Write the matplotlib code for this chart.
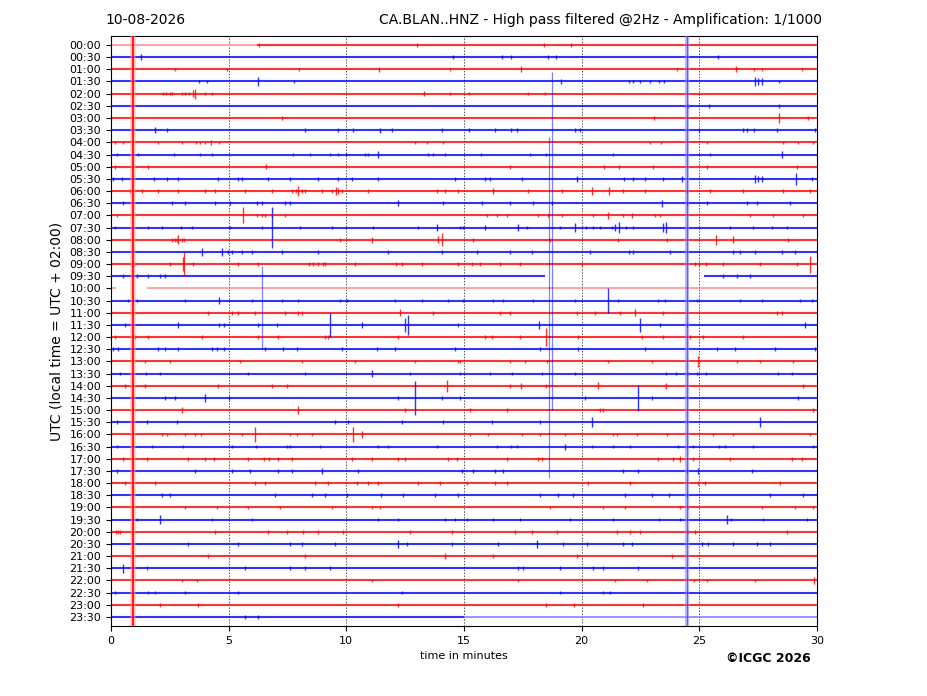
import matplotlib
matplotlib.use("Agg")
import matplotlib.pyplot as plt

# helicorder rows: 00:00 .. 23:30, one row every 30 minutes
row_labels = ["%02d:%02d" % (h, m) for h in range(24) for m in (0, 30)]

# small wiggles seen on each trace (minute of the row)
small_ticks = [
    [6.3, 13.0, 18.4, 19.55],
    [14.52, 16.6, 16.98, 18.58, 18.91, 25.81],
    [2.72, 4.94, 7.99, 14.4, 24.04, 27.34, 27.68, 29.38],
    [3.75, 4.07, 7.79, 22.0, 22.2, 22.5, 22.9, 23.3, 23.5, 28.4],
    [2.2, 2.35, 2.5, 2.6, 3.0, 3.14, 3.3, 3.99, 4.28, 14.4, 15.23, 17.71, 18.44],
    [24.5, 25.42, 28.4],
    [23.09, 29.63],
    [2.37, 8.24, 9.66, 10.27, 11.95, 14.05, 15.23, 16.32, 17.0, 17.24, 19.72, 19.93,
     25.0, 26.87, 27.04, 27.34, 28.29, 29.91],
    [0.17, 0.52, 2.01, 3.0, 3.6, 3.78, 3.99, 4.6, 12.92, 13.41, 14.12, 19.93, 22.9,
     23.36, 25.34, 28.57, 29.18, 29.82],
    [0.24, 1.16, 2.69, 3.78, 4.28, 7.75, 8.46, 9.31, 9.66, 9.97, 10.79, 10.94, 13.48,
     13.7, 14.19, 15.71, 17.8, 18.48, 21.35, 25.45],
    [0.17, 1.56, 16.95, 20.95, 21.59, 23.02, 25.31, 29.14],
    [0.1, 0.45, 1.84, 2.37, 2.83, 4.56, 5.41, 5.55, 6.69, 7.61, 8.81, 9.66, 10.23,
     11.36, 14.62, 15.89, 16.1, 17.45, 21.81, 22.2, 22.69, 23.44, 29.8],
    [0.81, 1.3, 2.01, 2.86, 3.99, 4.42, 5.69, 6.83, 7.7, 7.85, 8.1, 8.24, 8.95, 9.4,
     9.8, 10.94, 13.84, 14.19, 14.76, 17.73, 19.15, 21.77, 22.69, 24.46, 25.45, 26.87,
     28.57, 29.7],
    [0.52, 2.58, 3.14, 4.42, 5.06, 6.2, 6.4, 7.39, 7.61, 14.12, 15.75, 16.95, 17.95,
     18.73, 24.46, 25.31, 27.01, 27.44, 28.85],
    [0.24, 6.2, 6.4, 6.54, 6.83, 7.39, 15.96, 16.39, 16.81, 18.16, 18.58, 19.15, 20.5,
     21.77, 23.12, 23.33, 27.15, 28.15, 29.42],
    [0.17, 1.59, 2.15, 2.97, 3.45, 5.06, 6.4, 8.03, 9.38, 11.15, 13.06, 14.83, 14.97,
     17.66, 19.08, 20.2, 20.5, 20.78, 21.3, 21.9, 22.2, 26.3, 27.3, 28.07, 28.71],
    [2.6, 2.72, 2.8, 3.0, 3.1, 9.73, 15.4, 18.65, 21.56, 23.61, 28.78],
    [4.98, 5.13, 5.55, 5.98, 7.25, 8.81, 11.78, 14.05, 15.54, 16.95, 17.88, 20.35,
     22.0, 22.2, 23.75, 26.44, 26.73, 27.37, 28.5, 29.06],
    [0.99, 2.51, 3.5, 5.41, 6.26, 8.4, 8.6, 8.8, 9.0, 9.1, 10.37, 12.1, 12.35, 13.2,
     14.76, 15.33, 15.68, 16.53, 17.38, 20.0, 24.8, 25.0, 25.3, 26.02, 27.58, 29.14],
    [0.52, 1.09, 1.59, 2.08, 2.3, 26.02, 26.59, 27.15],
    [],
    [0.74, 1.09, 3.14, 5.98, 7.25, 7.96, 9.73, 10.05, 12.07, 13.2, 14.33, 14.97, 16.25,
     16.67, 17.95, 19.72, 21.56, 23.26, 23.54, 24.89, 26.73, 27.65, 29.28, 29.77],
    [0.88, 4.14, 5.13, 5.41, 6.12, 7.39, 7.96, 8.1, 13.7, 16.53, 16.95, 19.79, 20.57,
     21.63, 23.47, 28.29, 28.5],
    [0.6, 4.6, 4.8, 6.26, 7.04, 14.76, 23.33, 24.46],
    [0.17, 1.02, 1.59, 3.85, 6.26, 7.11, 9.1, 9.24, 12.21, 15.89, 16.2, 17.38, 19.86,
     22.55, 23.47, 24.6, 25.17, 26.87],
    [0.1, 0.3, 2.0, 2.3, 2.86, 4.3, 4.5, 4.8, 6.54, 7.3, 7.89, 9.8, 11.3, 12.07, 14.62,
     18.23, 19.86, 22.69, 25.74, 26.52, 28.22, 29.91],
    [1.44, 2.51, 5.5, 8.1, 10.37, 12.92, 14.76, 14.83, 16.95, 17.6, 18.51, 21.13, 22.97,
     26.59, 27.58, 28.99],
    [0.4, 0.9, 1.5, 2.1, 5.84, 8.24, 12.71, 14.83, 16.1, 17.03, 18.3, 19.72, 23.6, 24.0,
     24.5, 24.9, 25.3, 28.36, 28.92],
    [0.6, 1.44, 4.56, 6.83, 7.46, 16.95, 18.48, 29.42],
    [2.3, 2.7, 5.0, 12.21, 14.05, 14.83, 20.14, 22.97, 29.21],
    [12.5, 15.25, 16.81, 20.78, 20.92, 29.84],
    [0.24, 1.52, 2.79, 9.52, 10.08, 12.35, 14.12, 16.18, 18.23],
    [2.15, 2.37, 3.14, 3.57, 3.82, 5.55, 7.6, 7.9, 8.53, 15.25, 16.03, 17.45, 18.23,
     19.29, 21.35, 21.49, 22.34, 23.61, 25.6, 26.44, 29.7],
    [0.24, 1.73, 3.07, 5.13, 6.16, 7.46, 7.61, 8.88, 11.36, 11.78, 13.84, 16.39, 17.0,
     17.24, 20.42, 21.35, 22.05, 24.11, 24.74, 25.85, 26.1, 27.3, 29.84],
    [0.52, 1.52, 3.29, 3.99, 4.39, 5.84, 6.5, 6.7, 7.11, 7.68, 10.23, 11.08, 12.2, 12.5,
     14.33, 14.72, 16.81, 18.16, 18.3, 23.26, 23.9, 24.74, 26.3, 28.92, 29.35],
    [0.24, 3.57, 5.13, 5.9, 7.11, 7.68, 10.51, 14.9, 15.4, 16.32, 16.67, 21.77, 22.41,
     24.46, 27.22],
    [0.6, 1.87, 6.12, 6.54, 8.67, 9.24, 10.44, 10.94, 11.33, 13.06, 13.98, 15.11, 16.32,
     16.81, 20.28, 22.05, 24.96, 25.24, 28.43],
    [2.15, 2.5, 6.97, 8.53, 9.09, 10.01, 11.47, 12.39, 13.77, 14.76, 18.23, 19.01, 19.65,
     21.84, 22.97, 23.72, 24.46, 28.0, 29.42],
    [3.14, 4.49, 5.84, 7.18, 9.38, 11.08, 11.43, 18.65, 20.92, 21.84, 24.2, 24.53, 27.65,
     29.06, 29.84],
    [1.09, 4.28, 5.98, 11.36, 12.21, 14.2, 14.62, 15.11, 16.25, 17.38, 19.5, 21.35, 23.3,
     24.18, 26.33, 27.72, 29.56],
    [0.2, 0.3, 0.4, 4.42, 6.69, 7.46, 8.17, 8.81, 9.87, 12.71, 14.48, 17.17, 17.88, 18.94,
     21.49, 22.05, 22.48, 24.5, 24.82, 28.71],
    [3.29, 5.41, 7.61, 8.1, 9.52, 12.59, 14.48, 16.46, 19.22, 20.21, 21.77, 22.12, 25.1,
     25.38, 26.44, 27.44, 28.0],
    [4.14, 8.24, 16.25, 19.79, 23.82],
    [1.52, 5.69, 7.61, 8.24, 9.31, 17.3, 17.5, 19.08, 20.5, 20.92, 22.38],
    [3.0, 3.64, 11.08, 17.31, 21.42, 22.76, 24.77, 25.31, 27.37],
    [0.17, 1.59, 1.87, 3.14, 5.41, 12.35, 19.08, 20.92, 21.2],
    [2.08, 3.68, 12.21, 18.48, 19.69, 22.59],
    [5.69, 6.26],
]

# larger events: (row, minute, half height in row units)
big_events = [
    (1, 1.26, 0.27), (2, 11.37, 0.2), (2, 17.42, 0.25), (2, 26.57, 0.25),
    (3, 6.26, 0.33), (3, 19.12, 0.22), (3, 27.37, 0.35), (3, 27.5, 0.3), (3, 27.65, 0.3),
    (4, 3.5, 0.3), (4, 3.57, 0.42), (4, 13.31, 0.22),
    (6, 7.25, 0.2), (6, 28.4, 0.4),
    (7, 1.87, 0.27), (7, 11.43, 0.2),
    (8, 4.25, 0.22),
    (9, 11.36, 0.25), (9, 28.5, 0.25),
    (10, 6.59, 0.2),
    (11, 19.79, 0.22), (11, 24.25, 0.25), (11, 27.37, 0.3), (11, 27.5, 0.25),
    (11, 27.65, 0.25), (11, 29.11, 0.5),
    (12, 7.96, 0.42), (12, 9.55, 0.3), (12, 9.66, 0.25), (12, 16.25, 0.22),
    (12, 20.42, 0.3), (12, 21.15, 0.3),
    (13, 12.21, 0.25), (13, 23.4, 0.3),
    (14, 5.6, 0.65), (14, 21.13, 0.3), (14, 22.12, 0.22),
    (15, 6.83, 1.65), (15, 13.84, 0.3), (15, 15.89, 0.22), (15, 17.31, 0.25),
    (15, 19.72, 0.35), (15, 21.42, 0.3), (15, 21.6, 0.42), (15, 23.45, 0.4),
    (15, 23.6, 0.45),
    (16, 2.86, 0.35), (16, 11.08, 0.25), (16, 13.9, 0.3), (16, 14.05, 0.55),
    (16, 25.71, 0.4), (16, 26.44, 0.3),
    (17, 3.85, 0.3), (17, 4.7, 0.32),
    (18, 3.05, 0.6), (18, 3.12, 1.0), (18, 29.7, 0.7),
    (21, 4.6, 0.3), (21, 21.13, 1.0),
    (22, 12.3, 0.3), (22, 22.27, 0.3),
    (23, 2.86, 0.25), (23, 9.31, 1.0), (23, 10.65, 0.25), (23, 12.5, 0.6),
    (23, 12.63, 0.8), (23, 18.2, 0.3), (23, 22.48, 0.55), (23, 29.49, 0.25),
    (24, 18.5, 0.75),
    (26, 24.96, 0.45),
    (27, 11.1, 0.3),
    (28, 14.26, 0.5), (28, 17.42, 0.25), (28, 20.71, 0.3), (28, 23.58, 0.25),
    (29, 3.99, 0.3), (29, 12.92, 1.4), (29, 22.41, 1.05),
    (30, 3.0, 0.25), (30, 7.96, 0.35),
    (31, 20.42, 0.4), (31, 27.58, 0.4),
    (32, 6.1, 0.6), (32, 10.27, 0.6), (32, 10.65, 0.3),
    (33, 19.3, 0.25),
    (34, 24.2, 0.25),
    (35, 8.95, 0.22), (35, 24.96, 0.25),
    (39, 2.08, 0.35), (39, 26.16, 0.38),
    (41, 12.18, 0.3), (41, 18.12, 0.35),
    (42, 14.19, 0.25),
    (43, 0.53, 0.35),
    (44, 29.87, 0.25),
]

# clipped transients crossing many rows: (minute, first row, last row, colour)
long_spikes = [
    (6.40, 18.2, 24.9, "blue"),
    (18.75, 2.2, 30.0, "blue"),
    (18.60, 7.6, 35.6, "blue"),
]
# offsets drawn at every row
full_red_minute = 0.95
full_blue_minute = 24.48

# rows that are not one full trace: row -> [(start, end, faint)]
trace_spans = {
    0: [(0.0, 6.2, True), (6.2, 30.0, False)],
    19: [(0.0, 18.45, False), (25.2, 30.0, False)],
    20: [(0.0, 0.2, True), (1.53, 30.0, True)],
    47: [(0.0, 15.0, False), (15.0, 30.0, True)],
}

RED = "#ff0000"
BLUE = "#0000ff"
FAINT = {RED: "#ff9090", BLUE: "#8080ff"}

fig = plt.figure(figsize=(9.27, 6.96), dpi=100)
ax = fig.add_axes([0.1197, 0.1006, 0.7616, 0.8477])

n_rows = len(row_labels)
for i in range(n_rows):
    col = RED if i % 2 == 0 else BLUE
    spans = trace_spans.get(i, [(0.0, 30.0, False)])
    for start, end, faint in spans:
        ax.hlines(i, start, end, color=FAINT[col] if faint else col,
                  lw=1.5, alpha=0.8, zorder=2)
    ticks = small_ticks[i]
    if ticks:
        ax.vlines(ticks, i - 0.15, i + 0.15, color=col, lw=1.0, alpha=0.75, zorder=3)

for row, minute, amp in big_events:
    col = RED if row % 2 == 0 else BLUE
    ax.vlines(minute, row - amp, row + amp, color=col, lw=1.0, alpha=0.8, zorder=3)

for minute, r0, r1, c in long_spikes:
    ax.vlines(minute, r0, r1, color=BLUE if c == "blue" else RED, lw=0.9,
              alpha=0.5, zorder=3)

ax.axvline(full_red_minute, color="#ff9090", lw=4, alpha=0.5, zorder=4)
ax.axvline(full_red_minute, color=RED, lw=1.5, alpha=0.85, zorder=4)
ax.axvline(full_blue_minute, color="#8888ff", lw=3, alpha=0.6, zorder=4)
ax.axvline(full_blue_minute, color=BLUE, lw=0.8, alpha=0.5, zorder=4)

for g in (5, 10, 15, 20, 25):
    ax.axvline(g, color="#555555", lw=0.7, ls=(0, (1.5, 1.5)), zorder=1)

ax.set_xlim(0, 30)
ax.set_ylim(n_rows - 0.26, -0.74)
ax.set_xticks([0, 5, 10, 15, 20, 25, 30])
ax.set_yticks(range(n_rows))
ax.set_yticklabels(row_labels)
ax.tick_params(axis="both", labelsize=8)
ax.set_xlabel("time in minutes", fontsize=8)
ax.set_ylabel("UTC (local time = UTC + 02:00)", fontsize=10)

fig.text(0.114, 0.971, "10-08-2026", fontsize=10, ha="left", va="center")
fig.text(0.887, 0.971, "CA.BLAN..HNZ - High pass filtered @2Hz - Amplification: 1/1000",
         fontsize=10, ha="right", va="center")
fig.text(0.875, 0.054, "\u00a9ICGC 2026", fontsize=9, fontweight="bold",
         ha="right", va="center")

fig.savefig("out.png", dpi=100)
